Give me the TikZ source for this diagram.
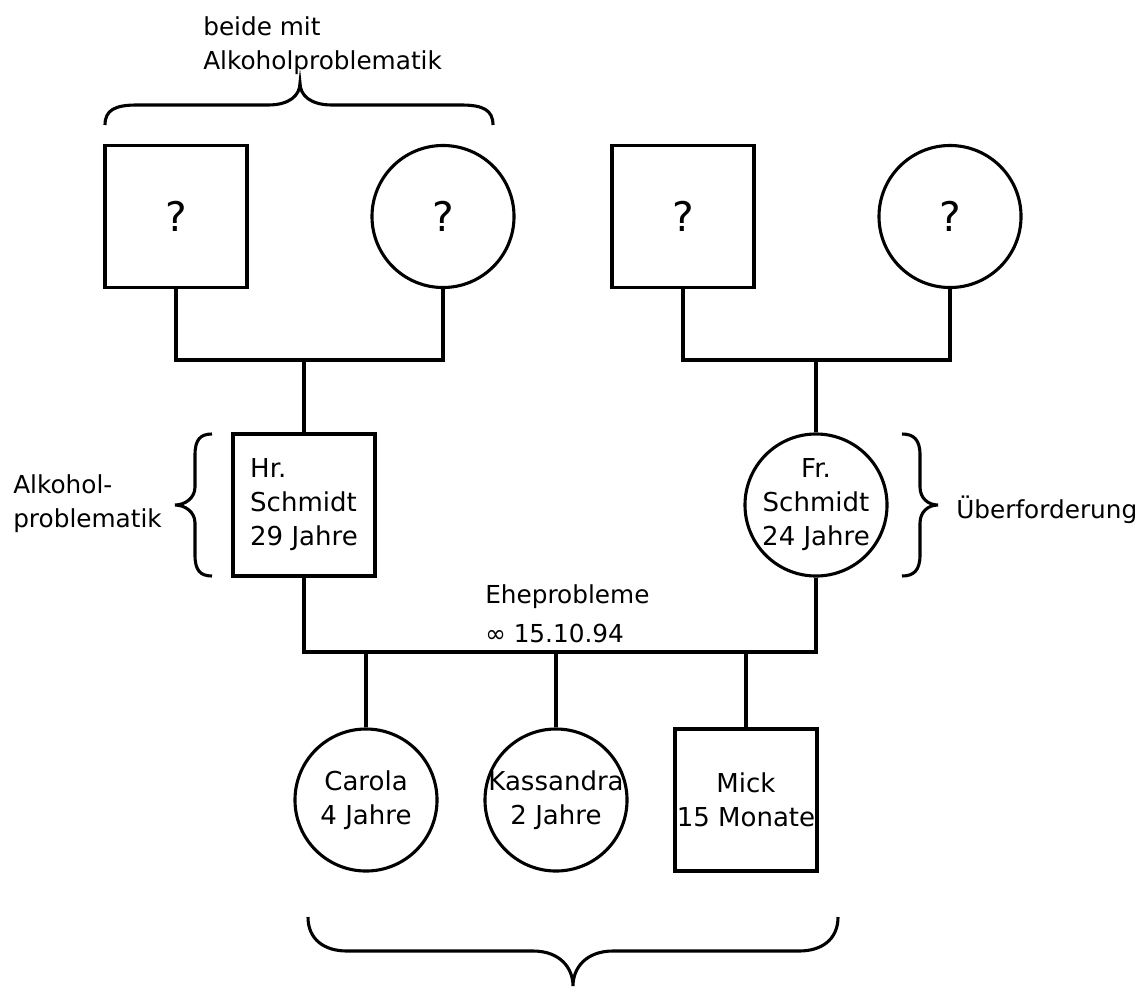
\documentclass[tikz,border=0pt]{standalone}
\usepackage{fontspec}
\setmainfont{DejaVu Sans}
\usetikzlibrary{positioning}
\usetikzlibrary{calc}

\begin{document}
\begin{tikzpicture} [
    x=0.025cm, y=-0.025cm,     % one unit is one pixel of the sketch
    ]
% ------------------------------------------------- 
\tikzset{
  base/.style={draw, line width=2.2pt, inner sep=0pt, minimum size=3.55cm, align=center,
               font=\fontsize{18.5}{24.2}\selectfont},
  rect/.style={base, rectangle},
  circ/.style={base, circle, inner sep=-5pt},
  unbek/.style={font=\fontsize{29}{34}\selectfont},
  lbl/.style={inner sep=0pt, align=left, font=\fontsize{17.6}{24.2}\selectfont},
  line/.style={draw, line width=2.2pt}
}
    \useasboundingbox (0,0) rectangle (1148,986);

    \node [rect, unbek] (gv1) at (176,216.5) {?};
    \node [circ, unbek] (gm1) at (443,216.5) {?};
    \node [rect, unbek] (gv2) at (683,216.5) {?};
    \node [circ, unbek] (gm2) at (950,216.5) {?};

    \node [rect, align=left] (hrs) at (304,505) {Hr.\\Schmidt\\29 Jahre};
    \node [circ] (frs) at (816,505) {Fr.\\Schmidt\\24 Jahre};

    \node [circ] (car) at (366,800) {Carola\\4 Jahre};
    \node [circ] (kas) at (556,800) {Kassandra\\2 Jahre};
    \node [rect] (mik) at (746,800) {Mick\\15 Monate};

    \node [lbl, anchor=west] (bei) at (203,46) {beide mit\\Alkoholproblematik};
    \node [lbl, anchor=west] (alk) at (13,504) {Alkohol-\\problematik};
    \node [lbl, anchor=base west] (ueb) at (956,518) {Überforderung};
    \node [lbl, anchor=base west] (ehe) at (485,603) {Eheprobleme};
    \node [lbl, anchor=base west] (dat) at (485,642) {∞ 15.10.94};

    \coordinate (p1) at (304,360);
    \coordinate (p2) at (816,360);
    \coordinate (m) at (556,652);

    \path [line] (gv1.south) |- (p1) -| (gm1.south);    % left parents
    \path [line] (p1) -- (hrs.north);
    \path [line] (gv2.south) |- (p2) -| (gm2.south);    % right parents
    \path [line] (p2) -- (frs.north);
    \path [line] (hrs.south) |- (m) -| (frs.south);     % marriage line
    \path [line] (kas.north) -- (m);
    \path [line] (car.north) -- (car.north |- m);
    \path [line] (mik.north) -- (mik.north |- m);

    % top brace
    \draw[line width=2.2pt] (105,125) .. controls (105,110) and (115,105) .. (137,105) -- (268,105)
        .. controls (290,105) and (300,95) .. (300,83) .. controls (300,95) and (310,105) .. (332,105)
        -- (461,105) .. controls (483,105) and (493,110) .. (493,125);
    % left brace
    \draw[line width=2.2pt] (212,434) .. controls (200,434) and (195,440) .. (195,455) -- (195,487)
        .. controls (195,498) and (185,505) .. (175,505) .. controls (185,505) and (195,512) .. (195,523)
        -- (195,555) .. controls (195,570) and (200,576) .. (212,576);
    % right brace
    \draw[line width=2.2pt] (902,434) .. controls (914,434) and (920,440) .. (920,455) -- (920,487)
        .. controls (920,498) and (928,505) .. (938,505) .. controls (928,505) and (920,512) .. (920,523)
        -- (920,555) .. controls (920,570) and (914,576) .. (902,576);
    % bottom brace
    \draw[line width=2.2pt] (308,917) .. controls (308,940) and (325,951) .. (347,951) -- (533,951)
        .. controls (560,951) and (573,968) .. (573,986) .. controls (573,968) and (586,951) .. (613,951)
        -- (799,951) .. controls (821,951) and (838,940) .. (838,917);

\end{tikzpicture}
\end{document}
